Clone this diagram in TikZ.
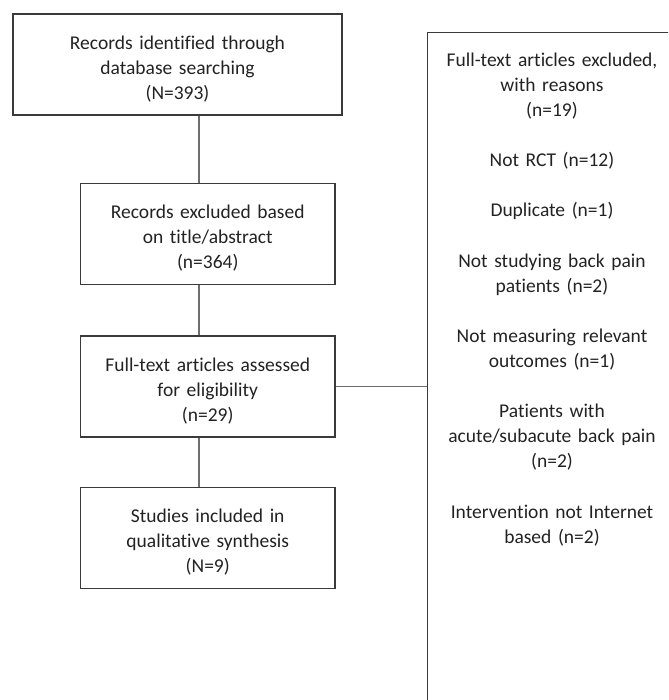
\documentclass[tikz,border=0pt]{standalone}
\usepackage{fontspec}
\setmainfont[WordSpace=1.5, Ligatures=NoCommon]{Carlito}
\usetikzlibrary{positioning}
\definecolor{framegray}{HTML}{3A3A3A}
\definecolor{linegray}{HTML}{6E6E6E}
\definecolor{inkgray}{HTML}{222222}
\newcommand\padtop{\rule{0pt}{22pt}}
\begin{document}
\begin{tikzpicture}[
  x=1pt, y=-1pt,
  box/.style={draw=framegray, line width=1.1pt, minimum width=254.5pt,
              minimum height=101pt, align=center, text=inkgray,
              font=\fontsize{19.5}{25}\selectfont, inner sep=0pt},
  link/.style={draw=linegray, line width=1.2pt}
]
\useasboundingbox (0,0) rectangle (668,700);
\clip (0,0) rectangle (668,700);
% Identification box
\node[box, minimum width=329pt] (ident) at (177.5,64.5)
  {\padtop Records identified through\\database searching\\(N=393)};
% Screening box
\node[box] (screen) at (207.75,234)
  {\padtop Records excluded based\\on title/abstract\\(n=364)};
% Eligibility box
\node[box] (elig) at (207.75,386.5)
  {\padtop Full-text articles assessed\\for eligibility\\(n=29)};
% Included box
\node[box] (incl) at (207.75,538)
  {\padtop Studies included in\\qualitative synthesis\\(N=9)};
% Exclusion frame (runs off the page)
\node[draw=framegray, line width=1.1pt, minimum width=260pt,
      minimum height=690pt, anchor=north west, inner sep=0pt] (excl) at (427,32) {};
% Reasons text
\node[align=center, text=inkgray, font=\fontsize{19.5}{25.1}\selectfont,
      anchor=north, inner sep=0pt] (reasons) at (552,52.5)
  {Full-text articles excluded,\\with reasons\\(n=19)\\[25.1pt]
   Not RCT (n=12)\\[25.1pt]
   Duplicate (n=1)\\[25.1pt]
   Not studying back pain\\patients (n=2)\\[25.1pt]
   Not measuring relevant\\outcomes (n=1)\\[25.1pt]
   Patients with\\acute/subacute back pain\\(n=2)\\[25.1pt]
   Intervention not Internet\\based (n=2)};

\coordinate (spine) at (199,0);
\draw[link] (ident.south -| spine) -- (screen.north -| spine);
\draw[link] (screen.south -| spine) -- (elig.north -| spine);
\draw[link] (elig.south -| spine) -- (incl.north -| spine);
\draw[link] (elig.east) -- (elig.east -| excl.west);
\end{tikzpicture}
\end{document}
